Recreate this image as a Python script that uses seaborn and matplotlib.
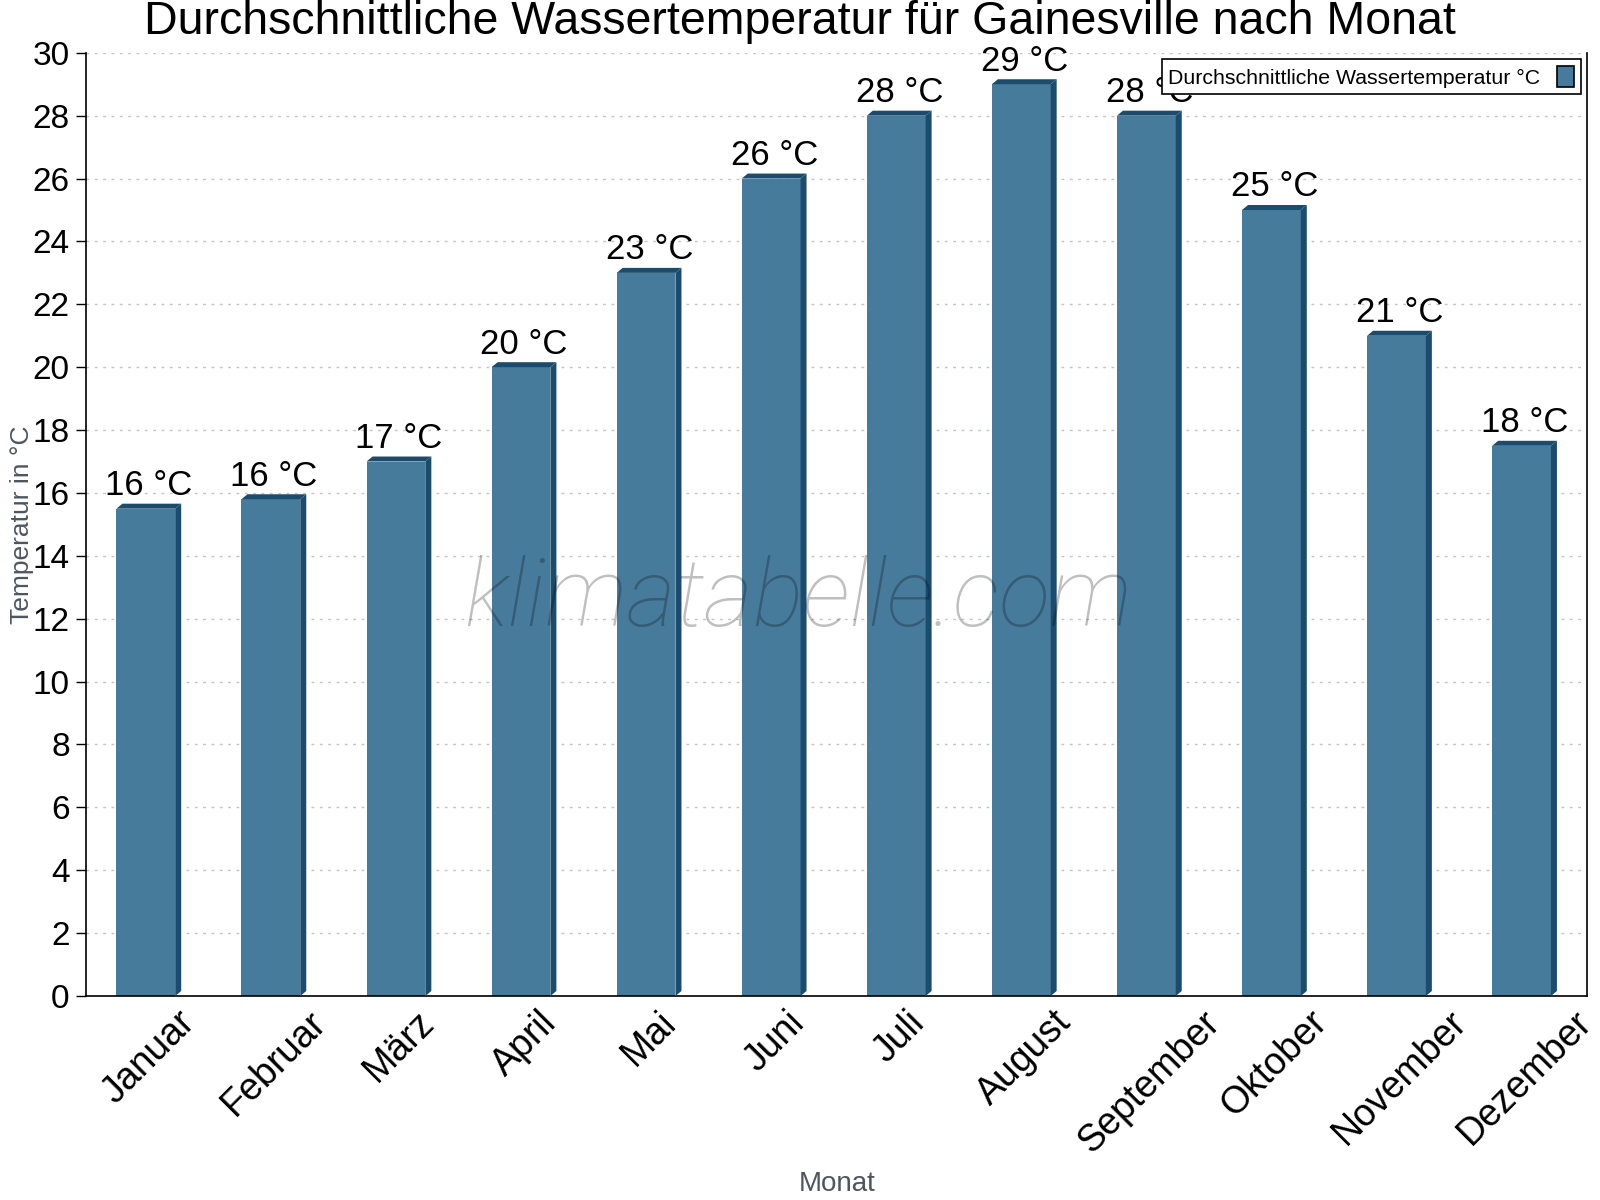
"""
Durchschnittliche Wassertemperatur für Gainesville nach Monat – Balkendiagramm
mit einfachem 3D-Effekt und Wasserzeichen.
"""

import matplotlib

matplotlib.use("Agg")

import matplotlib.pyplot as plt
import pandas as pd
import seaborn as sns
from matplotlib.patches import Patch, Polygon


MONTHS = [
    "Januar", "Februar", "März", "April", "Mai", "Juni",
    "Juli", "August", "September", "Oktober", "November", "Dezember",
]
WATER_TEMP = [15.5, 15.8, 17.0, 20.0, 23.0, 26.0, 28.0, 29.0, 28.0, 25.0, 21.0, 17.5]
Y_TICKS = list(range(0, 31, 2))

TITLE = "Durchschnittliche Wassertemperatur für Gainesville nach Monat"
SERIES_NAME = "Durchschnittliche Wassertemperatur °C"

FACE_COLOR = "#477b9c"
DARK_COLOR = "#1b4c6d"
LABEL_GREY = "#4d5660"
OUTPUT_PATH = "out.png"


def add_depth(ax, bars, dx_px=6, dy_px=5):
    """Rechte Seite und Oberseite jedes Balkens etwas dunkler nachzeichnen."""
    to_data = ax.transData.inverted()
    x0, y0 = to_data.transform((0, 0))
    x1, y1 = to_data.transform((dx_px, dy_px))
    dx, dy = x1 - x0, y1 - y0

    for bar in bars:
        left = bar.get_x()
        right = left + bar.get_width()
        top = bar.get_height()
        side = Polygon(
            [(right, 0), (right + dx, dy), (right + dx, top + dy), (right, top)],
            closed=True, facecolor=DARK_COLOR, edgecolor="none", zorder=3,
        )
        lid = Polygon(
            [(left, top), (left + dx, top + dy), (right + dx, top + dy), (right, top)],
            closed=True, facecolor=DARK_COLOR, edgecolor="none", zorder=3,
        )
        ax.add_patch(side)
        ax.add_patch(lid)
    return dx, dy


def main() -> None:
    sns.set_theme(style="white")
    plt.rcParams["font.family"] = ["Liberation Sans", "DejaVu Sans"]
    plt.rcParams["text.color"] = "black"
    plt.rcParams["xtick.color"] = "black"
    plt.rcParams["ytick.color"] = "black"

    df = pd.DataFrame({"monat": MONTHS, "temp": WATER_TEMP})

    fig = plt.figure(figsize=(16, 12), dpi=100)
    ax = fig.add_axes([0.054, 0.17, 0.938, 0.786])

    sns.barplot(
        data=df, x="monat", y="temp", ax=ax, color=FACE_COLOR,
        saturation=1, width=0.47, order=MONTHS, zorder=2,
    )
    bars = list(ax.patches)
    # Balken leicht nach links, damit Vorderseite + Seite mittig sitzen
    for bar in bars:
        bar.set_x(bar.get_x() - 0.025)
        bar.set_edgecolor("none")

    ax.set_xlim(-0.5, len(MONTHS) - 0.5)
    ax.set_ylim(0, 30)
    dx, dy = add_depth(ax, bars)

    for i, value in enumerate(WATER_TEMP):
        ax.text(
            i, value + dy * 1.3, f"{int(value + 0.5)} °C",
            ha="center", va="bottom", fontsize=25, color="black", zorder=5,
        )

    # Achsen
    ax.set_yticks(Y_TICKS)
    ax.set_yticklabels([str(t) for t in Y_TICKS], fontsize=24)
    ax.set_xticks(range(len(MONTHS)))
    ax.set_xticklabels(MONTHS, fontsize=27, rotation=45, ha="center")
    ax.set_xticks([i - 0.5 for i in range(len(MONTHS) + 1)], minor=True)
    ax.tick_params(axis="x", which="major", length=0, pad=6)
    ax.tick_params(axis="x", which="minor", length=9, width=1, direction="inout", color="black")
    ax.tick_params(axis="y", length=7, width=1, direction="out", color="black", pad=5, left=True)

    ax.yaxis.grid(True, linestyle=(0, (2, 4)), color="#c4c4c4", linewidth=1)
    ax.set_axisbelow(True)

    for side in ["left", "bottom", "right"]:
        ax.spines[side].set_visible(True)
        ax.spines[side].set_color("black")
        ax.spines[side].set_linewidth(1.2)
    ax.spines["top"].set_visible(False)

    ax.set_xlabel("Monat", fontsize=20, color=LABEL_GREY)
    ax.set_ylabel("Temperatur in °C", fontsize=19, color=LABEL_GREY)
    ax.xaxis.set_label_coords(0.5, -0.186)
    ax.yaxis.set_label_coords(-0.035, 0.5)

    fig.suptitle(TITLE, fontsize=33.5, y=0.982, va="center", color="black")

    # Wasserzeichen
    ax.text(
        0.474, 0.42, "klimatabelle.com", transform=ax.transAxes,
        ha="center", va="center", fontsize=68, style="italic", fontweight="light",
        family=["Roboto", "DejaVu Sans"], color="black", alpha=0.25, zorder=6,
    )

    handle = Patch(facecolor=FACE_COLOR, edgecolor="black", linewidth=1.2)
    legend = ax.legend(
        [handle], [SERIES_NAME], loc="upper right", fontsize=15.3,
        markerfirst=False, fancybox=False, framealpha=1, edgecolor="black",
        handlelength=0.8, handleheight=1.2, borderaxespad=0.3, borderpad=0.3,
    )
    legend.get_frame().set_linewidth(1.2)
    legend.set_zorder(7)

    fig.savefig(OUTPUT_PATH, dpi=100)
    plt.close(fig)


if __name__ == "__main__":
    main()
